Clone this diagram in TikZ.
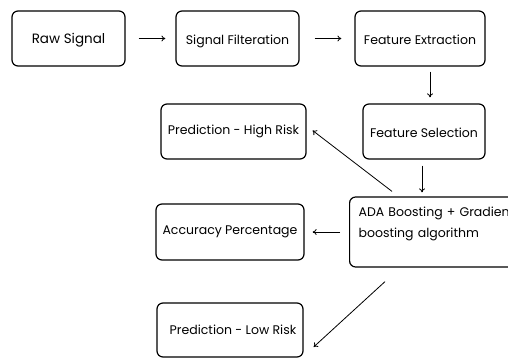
\documentclass[tikz,border=0pt]{standalone}
\usepackage{fontspec}
\setmainfont{Poppins}
\usetikzlibrary{arrows.meta}
\tikzset{
  box/.style={draw=black, line width=1.2pt, rounded corners=6pt, inner sep=4pt, font=\fontsize{12.5}{17}\selectfont},
  arr/.style={line width=0.8pt, -{To[length=4pt,width=6pt]}}
}

\begin{document}
\begin{tikzpicture}[x=1pt, y=-1pt]
        \clip (0,0) rectangle (508,358);
        \fill [white] (0,0) rectangle (508,358);
        % first row
        \node [box, minimum width=113pt, minimum height=55pt, font=\fontsize{13.5}{17}\selectfont] (raw) at (68.5,38.5) {\rule{0pt}{13pt}Raw Signal};
        \node [box, minimum width=123pt, minimum height=55pt] (filt) at (237.5,38.5) {\rule{0pt}{15.5pt}Signal Filteration};
        \node [box, minimum width=130pt, minimum height=55pt] (extr) at (420,38.5) {\rule{0pt}{12.5pt}Feature Extraction};
        % second row
        \node [box, minimum width=145pt, minimum height=55pt] (high) at (233.5,131.5) {Prediction - High Risk};
        \node [box, minimum width=122pt, minimum height=55pt] (sel) at (424,131.5) {\rule{0pt}{12.5pt}Feature Selection};
        % third row
        \node [box, minimum width=148pt, minimum height=56pt] (acc) at (230,232) {Accuracy Percentage};
        \node [box, anchor=west, text width=175pt, align=left, inner sep=9pt, minimum height=70pt,
               font=\fontsize{12.5}{21}\selectfont] (ada) at (349,232)
              {ADA Boosting + Gradient\\boosting algorithm\rule[-20pt]{0pt}{0pt}};
        % last row
        \node [box, minimum width=146pt, minimum height=54pt] (low) at (230,330) {\hspace{6pt}Prediction - Low Risk};
      \draw [arr, shorten <=13pt, shorten >=10pt] (raw) -- (filt);
      \draw [arr, shorten <=15pt, shorten >=13pt] (filt) -- (extr);
      \draw [arr, shorten <=5pt, shorten >=6pt] ([xshift=10pt]extr.south) -- ([xshift=10pt]extr.south |- sel.north);
      \draw [arr, shorten <=6pt, shorten >=4pt] ([xshift=-2pt]sel.south) -- ([xshift=-2pt]sel.south |- ada.north);
      \draw [arr, shorten <=9pt, shorten >=8pt] (ada.west) -- (acc.east);
      \draw [arr] ([xshift=43pt, yshift=5pt]ada.north west) -- ([xshift=6pt, yshift=1pt]high.east);
      \draw [arr] ([xshift=36pt, yshift=-14pt]ada.south west) -- ([xshift=10pt, yshift=-17pt]low.east);
    \end{tikzpicture}
\end{document}
